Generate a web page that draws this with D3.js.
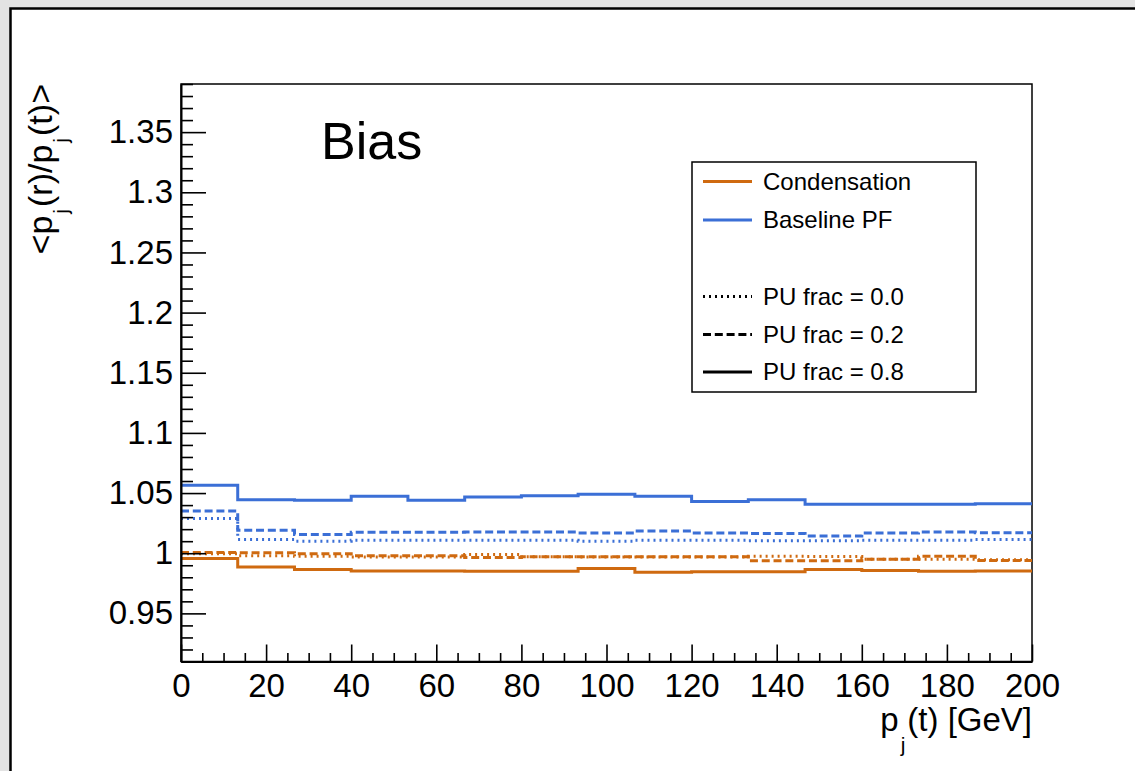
<!DOCTYPE html>
<html>
<head>
<meta charset="utf-8">
<script src="https://cdn.jsdelivr.net/npm/d3@7"></script>
<style>
  html, body { margin: 0; padding: 0; background: #e3e3e3; }
  svg { display: block; }
  text { font-family: "Liberation Sans", Arial, Helvetica, sans-serif; fill: #000; }
</style>
</head>
<body>
<svg id="chart" width="1135" height="771"></svg>
<script>
// ---------------- data ----------------
const binEdges = [0, 13.33, 26.67, 40, 53.33, 66.67, 80, 93.33, 106.67, 120, 133.33, 146.67, 160, 173.33, 186.67, 200];

// Condensation (orange)
const condPU00 = [0.9995, 0.998, 0.9975, 0.9968, 0.9968, 0.999, 0.997, 0.9968, 0.9968, 0.9968, 0.9975, 0.9972, 0.995, 0.995, 0.9945];
const condPU02 = [1.0005, 1.0003, 0.9995, 0.998, 0.998, 0.9965, 0.997, 0.997, 0.997, 0.997, 0.9938, 0.9938, 0.995, 0.9975, 0.994];
const condPU08 = [0.9956, 0.9886, 0.9865, 0.9853, 0.9853, 0.985, 0.985, 0.9873, 0.9842, 0.9845, 0.9845, 0.9865, 0.9857, 0.985, 0.9853];

// Baseline PF (blue)
const pfPU00 = [1.0288, 1.0114, 1.0100, 1.0108, 1.0108, 1.0108, 1.0108, 1.0100, 1.0108, 1.0108, 1.0103, 1.0103, 1.0108, 1.0108, 1.0114];
const pfPU02 = [1.0351, 1.019, 1.0155, 1.0174, 1.0174, 1.0177, 1.0177, 1.0169, 1.0185, 1.0169, 1.0163, 1.0144, 1.0169, 1.0177, 1.017];
const pfPU08 = [1.0564, 1.0445, 1.044, 1.0473, 1.044, 1.0467, 1.0478, 1.049, 1.0473, 1.043, 1.0445, 1.0406, 1.0406, 1.0406, 1.0412];

const xMajorTicks = [0, 20, 40, 60, 80, 100, 120, 140, 160, 180, 200];
const xMinorTicks = [5, 10, 15, 25, 30, 35, 45, 50, 55, 65, 70, 75, 85, 90, 95, 105, 110, 115, 125, 130, 135, 145, 150, 155, 165, 170, 175, 185, 190, 195];
const yMajorTicks = [0.95, 1.0, 1.05, 1.1, 1.15, 1.2, 1.25, 1.3, 1.35];
const yTickLabels = ["0.95", "1", "1.05", "1.1", "1.15", "1.2", "1.25", "1.3", "1.35"];
const yMinorTicks = [0.91,0.92,0.93,0.94,0.96,0.97,0.98,0.99,1.01,1.02,1.03,1.04,1.06,1.07,1.08,1.09,1.11,1.12,1.13,1.14,1.16,1.17,1.18,1.19,1.21,1.22,1.23,1.24,1.26,1.27,1.28,1.29,1.31,1.32,1.33,1.34,1.36,1.37,1.38,1.39];

const algoNames = ["Condensation", "Baseline PF"];
const puNames = ["PU frac = 0.0", "PU frac = 0.2", "PU frac = 0.8"];

// ---------------- styles ----------------
const ORANGE = "#cf6a10";
const BLUE = "#3b6fd6";
const DASH = { dotted: "2,4", dashed: "8,3.8", solid: null };

const series = [
  { values: condPU00, color: ORANGE, dash: DASH.dotted },
  { values: condPU02, color: ORANGE, dash: DASH.dashed },
  { values: pfPU00,   color: BLUE,   dash: DASH.dotted },
  { values: pfPU02,   color: BLUE,   dash: DASH.dashed },
  { values: condPU08, color: ORANGE, dash: DASH.solid },
  { values: pfPU08,   color: BLUE,   dash: DASH.solid }
];

// ---------------- layout ----------------
const svg = d3.select("#chart");
const L = 181, R = 1032, T = 84, B = 661.5;
const x = d3.scaleLinear().domain([0, 200]).range([L, R]);
const y = d3.scaleLinear().domain([0.91, 1.39]).range([B, T]);

// background panel
svg.append("rect").attr("x", 0).attr("y", 0).attr("width", 1135).attr("height", 771).attr("fill", "#e3e3e3");
svg.append("rect").attr("x", 10.5).attr("y", 8.5).attr("width", 1200).attr("height", 900)
  .attr("fill", "#fff").attr("stroke", "#000").attr("stroke-width", 2.5);

// frame
svg.append("rect").attr("x", L).attr("y", T).attr("width", R - L).attr("height", B - T)
  .attr("fill", "none").attr("stroke", "#000").attr("stroke-width", 1.5);

// histograms
const line = d3.line().x(d => x(d[0])).y(d => y(d[1])).curve(d3.curveStepAfter);
series.forEach(s => {
  const pts = s.values.map((v, i) => [binEdges[i], v]);
  pts.push([binEdges[binEdges.length - 1], s.values[s.values.length - 1]]);
  const p = svg.append("path").datum(pts).attr("d", line)
    .attr("fill", "none").attr("stroke", s.color).attr("stroke-width", 3);
  if (s.dash) p.attr("stroke-dasharray", s.dash);
});

// axes
const fontTick = 33;
const yAxis = d3.axisLeft(y).tickValues(yMajorTicks)
  .tickFormat((d, i) => yTickLabels[i]).tickSizeInner(-25).tickSizeOuter(0).tickPadding(8);
const gy = svg.append("g").attr("transform", `translate(${L},0)`).call(yAxis);
gy.selectAll("text").attr("font-size", fontTick).style("font-family", "Liberation Sans, Arial, sans-serif");
const yMinor = d3.axisLeft(y).tickValues(yMinorTicks).tickFormat("").tickSizeInner(-12).tickSizeOuter(0);
svg.append("g").attr("transform", `translate(${L},0)`).call(yMinor).select(".domain").remove();

const xAxis = d3.axisBottom(x).tickValues(xMajorTicks).tickFormat(d3.format("d"))
  .tickSizeInner(-17).tickSizeOuter(0).tickPadding(12);
const gx = svg.append("g").attr("transform", `translate(0,${B})`).call(xAxis);
gx.selectAll("text").attr("font-size", fontTick).style("font-family", "Liberation Sans, Arial, sans-serif");
const xMinor = d3.axisBottom(x).tickValues(xMinorTicks).tickFormat("").tickSizeInner(-8.5).tickSizeOuter(0);
svg.append("g").attr("transform", `translate(0,${B})`).call(xMinor).select(".domain").remove();

svg.selectAll(".domain").attr("stroke", "#000").attr("stroke-width", 2);
svg.selectAll(".tick line").attr("stroke", "#000").attr("stroke-width", 1.6);

// axis titles
const xt = svg.append("text").attr("x", R).attr("y", 731).attr("text-anchor", "end").attr("font-size", 33);
xt.append("tspan").text("p");
xt.append("tspan").attr("font-size", 21).attr("dy", 21).attr("dx", 2).text("j");
xt.append("tspan").attr("dy", -21).attr("dx", 2).text("(t) [GeV]");

const yt = svg.append("text").attr("transform", `translate(52,${T}) rotate(-90)`)
  .attr("text-anchor", "end").attr("font-size", 34);
yt.append("tspan").text("<p");
yt.append("tspan").attr("font-size", 21).attr("dy", 16).attr("dx", 2).text("j");
yt.append("tspan").attr("dy", -16).attr("dx", 2).text("(r)/p");
yt.append("tspan").attr("font-size", 21).attr("dy", 16).attr("dx", 2).text("j");
yt.append("tspan").attr("dy", -16).attr("dx", 2).text("(t)>");

// "Bias" label
svg.append("text").attr("x", 321).attr("y", 159).attr("font-size", 52).text("Bias");

// legend
const lg = svg.append("g");
lg.append("rect").attr("x", 692).attr("y", 162).attr("width", 284).attr("height", 230)
  .attr("fill", "#fff").attr("stroke", "#000").attr("stroke-width", 1.5);
const legendRows = [
  { label: algoNames[0], color: ORANGE, dash: null, cy: 181.5 },
  { label: algoNames[1], color: BLUE, dash: null, cy: 220 },
  { label: puNames[0], color: "#000", dash: DASH.dotted, cy: 296.5 },
  { label: puNames[1], color: "#000", dash: DASH.dashed, cy: 334.5 },
  { label: puNames[2], color: "#000", dash: null, cy: 372 }
];
legendRows.forEach(r => {
  const l = lg.append("line").attr("x1", 703).attr("x2", 752).attr("y1", r.cy).attr("y2", r.cy)
    .attr("stroke", r.color).attr("stroke-width", 3);
  if (r.dash) l.attr("stroke-dasharray", r.dash);
  lg.append("text").attr("x", 763).attr("y", r.cy + 8).attr("font-size", 24).text(r.label);
});
</script>
</body>
</html>
